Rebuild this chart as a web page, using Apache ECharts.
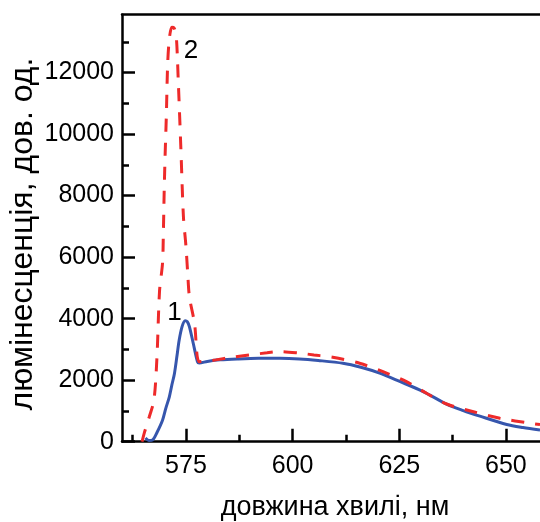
<!DOCTYPE html>
<html>
<head>
<meta charset="utf-8">
<script src="https://cdn.jsdelivr.net/npm/echarts@6/dist/echarts.min.js"></script>
<style>html,body{margin:0;padding:0;background:#fff;}#c{width:540px;height:522px;}</style>
</head>
<body>
<div id="c"></div>
<script>
// Curve 1 (blue, solid)
const wavelength1 = [565.5,566.3,567.2,568.2,569.5,570.3,571.1,571.7,572.3,572.9,573.4,574.1,574.8,575.3,575.8,576.7,577.7,578.1,580,583,587,592,597,601.6,606,611.8,616,620.4,625.1,630.6,636.1,640,643.9,650.2,654,658];
const lum1 = [120,40,60,300,700,1100,1460,1850,2220,2800,3300,3750,3935,3900,3740,3200,2600,2560,2610,2660,2690,2710,2710,2690,2640,2550,2420,2230,1960,1630,1220,1010,830,560,460,380];
// Curve 2 (red, dashed)
const wavelength2 = [564.7,565.2,566.4,567.5,568.2,568.8,569.5,569.7,569.9,570.1,570.4,570.7,571.1,571.7,572.2,572.7,573.2,573.8,574.4,575.0,575.4,575.8,577.0,578.1,580,582,586,589.9,594,597,601.6,605,609.4,615.7,621.2,626.7,631.4,636.1,642.4,648.6,655.7,658];
const lum2 = [0,270,810,1360,2760,4900,5800,6800,8200,9270,10620,12250,13100,13470,13450,13230,11700,9540,7320,6340,5490,4720,3850,2600,2620,2660,2750,2820,2890,2930,2880,2820,2745,2550,2275,1950,1575,1225,975,760,600,560];
// Axis ticks
const xMajorTicks = [575,600,625,650];
const xMinorTicks = [562.5,587.5,612.5,637.5];
const yMajorTicks = [0,2000,4000,6000,8000,10000,12000];
const yMinorTicks = [1000,3000,5000,7000,9000,11000,13000];
const xRange = [560,658];
const yRange = [0,13880];
// Curve labels
const curveLabels = [{text:'1', coord:[572.3,4200], series:0},{text:'2', coord:[576.2,12700], series:1}];
const xTitle = 'довжина хвилі, нм';
const yTitle = 'люмінесценція, дов. од.';

const FONT = '"Liberation Sans", Arial, sans-serif';
const zip = (a,b)=>a.map((v,i)=>[v,b[i]]);
const plain = (v)=>String(v);
const chart = echarts.init(document.getElementById('c'), null, {renderer:'canvas'});
const axisLineStyle = {color:'#000', width:2.5};
const mk = (idx)=>({
  symbol:'circle', symbolSize:0,
  data: curveLabels.filter(l=>l.series===idx).map(l=>({coord:l.coord, value:l.text})),
  label:{show:true, position:'inside', formatter:(p)=>p.value, color:'#000', fontSize:26, fontFamily:FONT}
});
chart.setOption({
  animation:false,
  backgroundColor:'#fff',
  grid:{left:122, right:0, top:14.7, bottom:80.3, containLabel:false},
  xAxis:[
    {type:'value', min:xRange[0], max:xRange[1], position:'bottom',
     axisLine:{show:true, onZero:false, lineStyle:axisLineStyle},
     axisTick:{show:true, inside:true, length:13, customValues:xMajorTicks, lineStyle:{color:'#000', width:2.5}},
     axisLabel:{show:true, customValues:xMajorTicks, formatter:plain, color:'#000', fontSize:25, fontFamily:FONT, margin:12},
     splitLine:{show:false}},
    {type:'value', min:xRange[0], max:xRange[1], position:'bottom',
     axisLine:{show:false},
     axisTick:{show:true, inside:true, length:7, customValues:xMinorTicks, lineStyle:{color:'#000', width:2.5}},
     axisLabel:{show:false}, splitLine:{show:false}},
    {type:'value', min:xRange[0], max:xRange[1], position:'top',
     axisLine:{show:true, onZero:false, lineStyle:axisLineStyle},
     axisTick:{show:false}, axisLabel:{show:false}, splitLine:{show:false}}
  ],
  yAxis:[
    {type:'value', min:yRange[0], max:yRange[1], position:'left',
     axisLine:{show:true, onZero:false, lineStyle:axisLineStyle},
     axisTick:{show:true, inside:true, length:13, customValues:yMajorTicks, lineStyle:{color:'#000', width:2.5}},
     axisLabel:{show:true, customValues:yMajorTicks, formatter:plain, color:'#000', fontSize:25, fontFamily:FONT, margin:8},
     splitLine:{show:false}},
    {type:'value', min:yRange[0], max:yRange[1], position:'left',
     axisLine:{show:false},
     axisTick:{show:true, inside:true, length:7, customValues:yMinorTicks, lineStyle:{color:'#000', width:2.5}},
     axisLabel:{show:false}, splitLine:{show:false}}
  ],
  graphic:[
    {type:'text', x:335, y:508, style:{text:xTitle, fill:'#000', font:'27px '+FONT, textAlign:'center', textVerticalAlign:'middle'}},
    {type:'text', x:39, y:234, rotation:Math.PI/2, style:{text:yTitle, fill:'#000', font:'32px '+FONT, textAlign:'center', textVerticalAlign:'bottom'}}
  ],
  series:[
    {type:'line', xAxisIndex:0, yAxisIndex:0, data:zip(wavelength1,lum1), showSymbol:false, smooth:0.3,
     lineStyle:{color:'#3656ad', width:3}, markPoint:mk(0), z:2},
    {type:'line', xAxisIndex:0, yAxisIndex:0, data:zip(wavelength2,lum2), showSymbol:false, smooth:0.3,
     lineStyle:{color:'#ee2a2a', width:3, type:[13,11]}, markPoint:mk(1), z:3}
  ]
});
</script>
</body>
</html>
